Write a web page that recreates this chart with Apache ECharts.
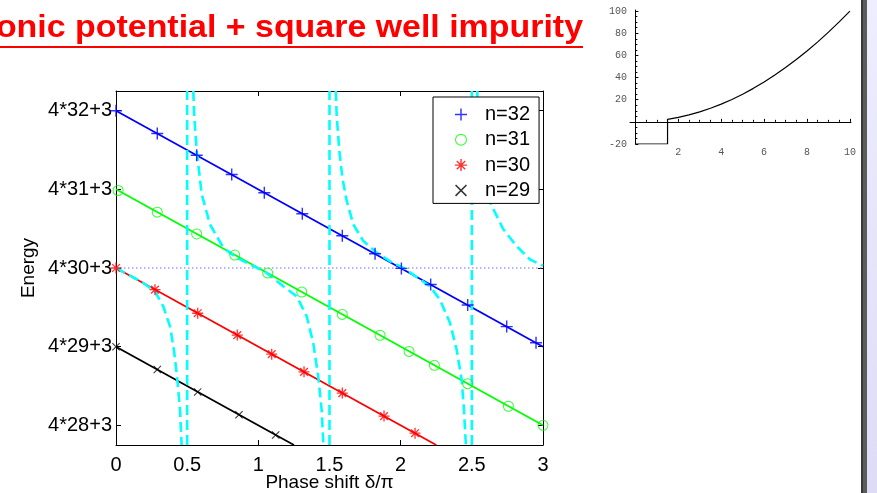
<!DOCTYPE html>
<html>
<head>
<meta charset="utf-8">
<script src="https://cdn.jsdelivr.net/npm/echarts@6/dist/echarts.min.js"></script>
<style>
  html, body { margin: 0; padding: 0; background: #fff; }
  #chart { width: 877px; height: 493px; }
</style>
</head>
<body>
<div id="chart"></div>
<script>
  // tick labels of the energy axis (E = 4n+3)
  const energyTicks = [115, 119, 123, 127, 131];
  const energyLabels = ['4*28+3', '4*29+3', '4*30+3', '4*31+3', '4*32+3'];

  // straight levels E_n(delta)
  const n32Line = [[0, 131], [3, 119]];
  const n31Line = [[0, 127], [3, 115]];
  const n30Line = [[0, 123], [2.25, 114]];
  const n29Line = [[0, 119], [1.25, 114]];

  // marker points
  const n32Marks = [[0, 131], [0.29, 129.84], [0.567, 128.73], [0.813, 127.75], [1.042, 126.83], [1.309, 125.76],
    [1.59, 124.64], [1.82, 123.72], [2.005, 122.98], [2.211, 122.16], [2.471, 121.12], [2.745, 120.02], [2.951, 119.2]];
  const n31Marks = [[0.015, 126.94], [0.29, 125.84], [0.567, 124.73], [0.834, 123.66], [1.066, 122.74], [1.305, 121.78],
    [1.59, 120.64], [1.855, 119.58], [2.059, 118.76], [2.237, 118.05], [2.471, 117.12], [2.757, 115.97], [3.0, 115.0]];
  const n30Marks = [[0, 123], [0.274, 121.9], [0.574, 120.7], [0.852, 119.59], [1.094, 118.62], [1.321, 117.72],
    [1.59, 116.64], [1.883, 115.47], [2.101, 114.6]];
  const n29Marks = [[0, 119], [0.29, 117.84], [0.574, 116.7], [0.864, 115.54], [1.122, 114.51]];

  // impurity curves (cyan dashed)
  const branchA = [[0, 123], [0.192, 122.24], [0.274, 121.81], [0.332, 121.05], [0.38, 120.02], [0.407, 118.83],
    [0.429, 117.47], [0.45, 115.77], [0.46, 114.15], [0.461, 114]];
  const branchB = [[0.543, 132], [0.55, 130.68], [0.567, 128.97], [0.602, 126.76], [0.66, 125.22], [0.754, 124.03],
    [0.848, 123.52], [1.059, 122.75], [1.175, 122.07], [1.27, 121.56], [1.34, 120.54], [1.386, 119.18],
    [1.421, 117.47], [1.445, 115.77], [1.456, 114.15], [1.457, 114]];
  const branchC = [[1.544, 132], [1.551, 130.68], [1.569, 128.97], [1.59, 127.61], [1.621, 126.41], [1.667, 125.22],
    [1.738, 124.37], [1.832, 123.78], [1.925, 123.35], [2.019, 123.01], [2.206, 122.07], [2.276, 121.39],
    [2.347, 120.2], [2.394, 118.83], [2.429, 117.3], [2.445, 115.77], [2.457, 114.15], [2.458, 114]];
  const branchD = [[2.538, 132], [2.545, 130.5], [2.562, 128.9], [2.59, 127.5], [2.628, 126.33], [2.721, 124.97],
    [2.815, 124.11], [2.909, 123.43], [3.0, 123.12]];
  const asymptotes = [0.5, 1.5, 2.5];
  const refLevel = [[0, 123], [3, 123]];

  // inset: potential V(x)
  const potential = [[0, -20], [1.5, -20], [1.5, 2.25], [2, 4], [2.5, 6.25], [3, 9], [3.5, 12.25], [4, 16],
    [4.5, 20.25], [5, 25], [5.5, 30.25], [6, 36], [6.5, 42.25], [7, 49], [7.5, 56.25], [8, 64], [8.5, 72.25],
    [9, 81], [9.5, 90.25], [10, 100]];
  const insetXLabels = [2, 4, 6, 8, 10];
  const insetYLabels = [-20, 20, 40, 60, 80, 100];

  const PLUS = 'path://M4.4,0H5.6V10H4.4ZM0,4.4H10V5.6H0Z';
  const RING = 'path://M5,0A5,5 0 1,1 5,10A5,5 0 1,1 5,0ZM5,0.9A4.1,4.1 0 1,0 5,9.1A4.1,4.1 0 1,0 5,0.9Z';
  const STAR = 'path://M4.4,0H5.6V10H4.4ZM0,4.4H10V5.6H0ZM1.08,1.92L1.92,1.08L8.92,8.08L8.08,8.92ZM8.08,1.08L8.92,1.92L1.92,8.92L1.08,8.08Z';
  const CROSS = 'path://M0,0.9L0.9,0L10,9.1L9.1,10ZM9.1,0L10,0.9L0.9,10L0,9.1Z';

  const font = 'Liberation Sans, Arial, Helvetica, sans-serif';
  const cyan = { color: '#00ffff', width: 2.6, type: [10, 5] };

  function levelLine(data, color) {
    return { type: 'line', data: data, symbol: 'none', lineStyle: { color: color, width: 1.8 }, silent: true };
  }
  function marks(name, data, symbol, size, color) {
    return { name: name, type: 'scatter', data: data, symbol: symbol, symbolSize: size, itemStyle: { color: color }, z: 4 };
  }
  function dashed(data) {
    return { type: 'line', data: data, symbol: 'none', lineStyle: cyan, silent: true, z: 3 };
  }

  let chart = echarts.init(document.getElementById('chart'));

  let mainAxisX = {
    type: 'value', min: 0, max: 3, interval: 0.5,
    axisLine: { onZero: false, lineStyle: { color: '#000', width: 1 } },
    axisTick: { inside: true, length: 5, lineStyle: { color: '#000' } },
    splitLine: { show: false }
  };
  let mainAxisY = {
    type: 'value', min: 114, max: 132,
    axisLine: { onZero: false, lineStyle: { color: '#000', width: 1 } },
    axisTick: { inside: true, length: 5, customValues: energyTicks, lineStyle: { color: '#000' } },
    splitLine: { show: false }
  };

  chart.setOption({
    animation: false,
    backgroundColor: '#fff',
    grid: [
      { left: 116, right: 334, top: 91, bottom: 48, containLabel: false, outerBoundsMode: 'none' },
      { left: 630, right: 26, top: 10, bottom: 349, containLabel: false, outerBoundsMode: 'none' }
    ],
    xAxis: [
      Object.assign({}, mainAxisX, {
        gridIndex: 0, position: 'bottom',
        axisLabel: { color: '#000', fontFamily: font, fontSize: 20, margin: 10 },
        name: 'Phase shift δ/π', nameLocation: 'middle', nameGap: 28, nameMoveOverlap: false,
        nameTextStyle: { color: '#000', fontFamily: font, fontSize: 19 }
      }),
      Object.assign({}, mainAxisX, { gridIndex: 0, position: 'top', axisLabel: { show: false } }),
      {
        type: 'value', gridIndex: 1, min: -0.25, max: 10.05,
        axisLine: { onZero: true, lineStyle: { color: '#000', width: 1 } },
        axisTick: { inside: true, length: 3, customValues: [2, 4, 6, 8, 10], lineStyle: { color: '#000' } },
        minorTick: { show: true, splitNumber: 4, length: 2, lineStyle: { color: '#000' } },
        axisLabel: { customValues: insetXLabels, color: '#555', fontFamily: 'Liberation Mono, monospace', fontSize: 10, margin: 3 },
        splitLine: { show: false }
      }
    ],
    yAxis: [
      Object.assign({}, mainAxisY, {
        gridIndex: 0, position: 'left',
        axisLabel: {
          customValues: energyTicks, color: '#000', fontFamily: font, fontSize: 20, margin: 4,
          formatter: function (v) { return energyLabels[energyTicks.indexOf(v)]; }
        },
        name: 'Energy', nameLocation: 'middle', nameGap: 78, nameMoveOverlap: false,
        nameTextStyle: { color: '#000', fontFamily: font, fontSize: 19 }
      }),
      Object.assign({}, mainAxisY, { gridIndex: 0, position: 'right', axisLabel: { show: false } }),
      {
        type: 'value', gridIndex: 1, min: -20, max: 101,
        axisLine: { onZero: true, lineStyle: { color: '#000', width: 1 } },
        axisTick: { inside: true, length: 3, customValues: [-20, 20, 40, 60, 80, 100], lineStyle: { color: '#000' } },
        minorTick: { show: true, splitNumber: 4, length: 2, lineStyle: { color: '#000' } },
        axisLabel: { customValues: insetYLabels, color: '#555', fontFamily: 'Liberation Mono, monospace', fontSize: 10, margin: 3 },
        splitLine: { show: false }
      }
    ],
    legend: {
      left: 433, top: 97, orient: 'vertical',
      backgroundColor: '#fff', borderColor: '#000', borderWidth: 1,
      padding: [7.5, 9, 3, 22], itemGap: 5.3, itemWidth: 38, itemHeight: 12,
      textStyle: { color: '#000', fontFamily: font, fontSize: 20, lineHeight: 19 },
      data: [
        { name: 'n=32', icon: PLUS },
        { name: 'n=31', icon: RING },
        { name: 'n=30', icon: STAR },
        { name: 'n=29', icon: CROSS }
      ]
    },
    graphic: [
      {
        type: 'text', x: 583, y: 28, scaleX: 1.06,
        style: {
          text: 'Harmonic potential + square well impurity', align: 'right', verticalAlign: 'middle',
          fill: '#ff0000', font: 'bold 32px Liberation Sans, Arial, sans-serif'
        }
      },
      { type: 'rect', shape: { x: 0, y: 46, width: 583, height: 2 }, style: { fill: '#ff0000' } },
      { type: 'rect', shape: { x: 861, y: 0, width: 2, height: 493 }, style: { fill: '#383838' } },
      { type: 'rect', shape: { x: 863, y: 0, width: 4, height: 493 }, style: { fill: '#5c5c5c' } },
      {
        type: 'rect', shape: { x: 867, y: 0, width: 10, height: 493 },
        style: { fill: new echarts.graphic.LinearGradient(0, 0, 0, 1, [{ offset: 0, color: '#eeeefe' }, { offset: 1, color: '#dcdcf6' }]) }
      }
    ],
    series: [
      {
        type: 'line', data: refLevel, symbol: 'none', silent: true,
        lineStyle: { color: '#6f6fff', width: 1, type: [1.5, 2.5] }
      },
      levelLine(n32Line, '#0000ff'),
      levelLine(n31Line, '#00ff00'),
      levelLine(n30Line, '#ff0000'),
      levelLine(n29Line, '#000000'),
      dashed(branchA), dashed(branchB), dashed(branchC), dashed(branchD)
    ].concat(asymptotes.map(a => dashed([[a, 114], [a, 132]]))).concat([
      marks('n=32', n32Marks, PLUS, 12, '#0000ff'),
      marks('n=31', n31Marks, RING, 11, '#00ff00'),
      marks('n=30', n30Marks, STAR, 11, '#ff0000'),
      marks('n=29', n29Marks, CROSS, 8, '#000000'),
      {
        type: 'line', xAxisIndex: 2, yAxisIndex: 2, data: potential, symbol: 'none', silent: true,
        lineStyle: { color: '#000', width: 1.2 }
      }
    ])
  });
</script>
</body>
</html>
